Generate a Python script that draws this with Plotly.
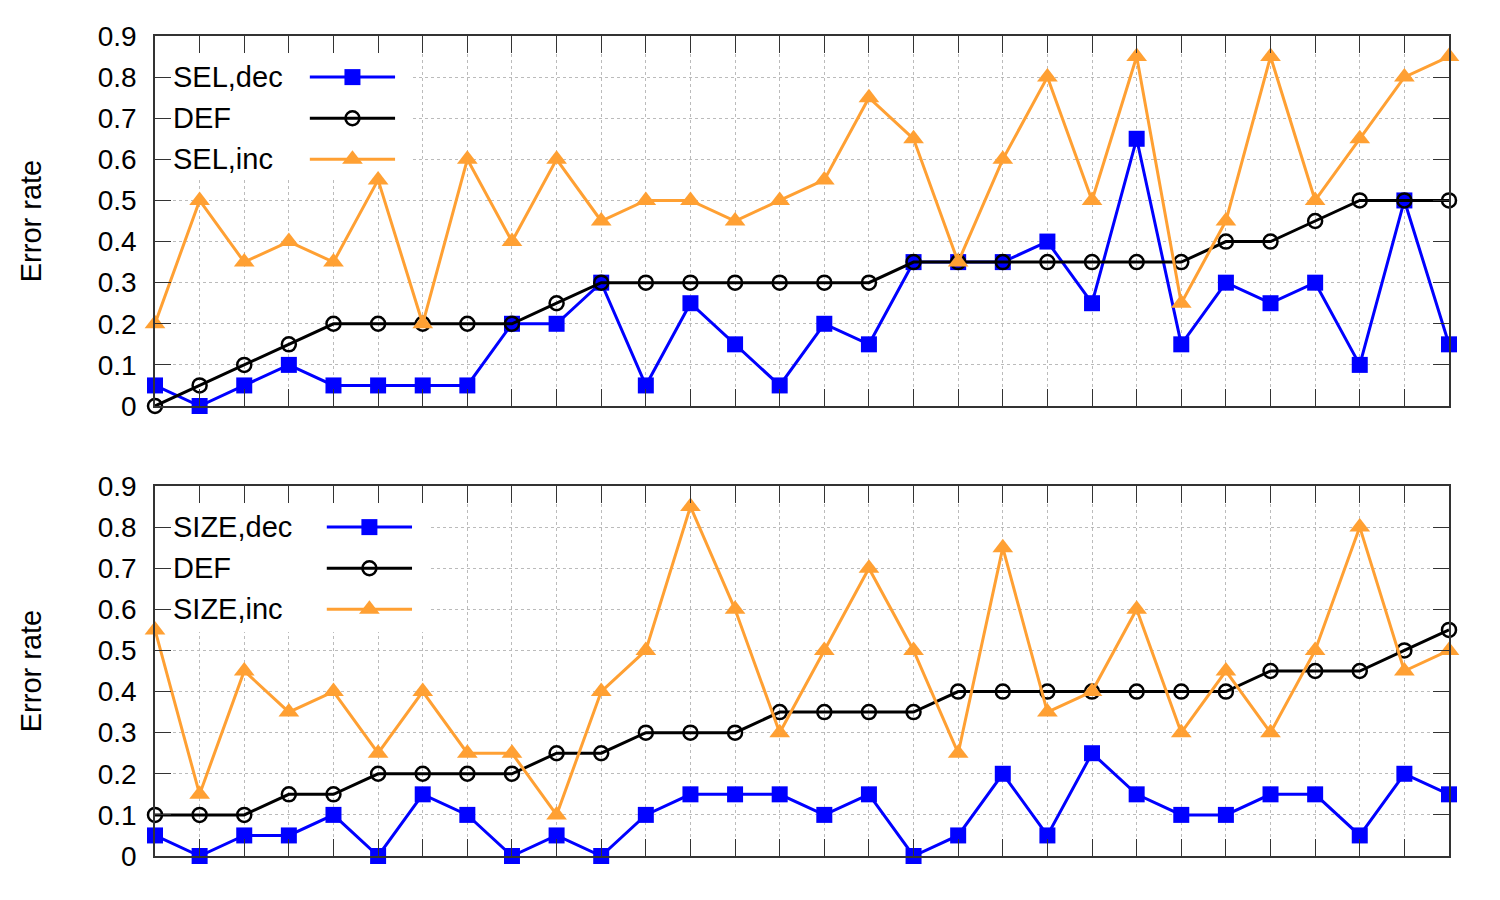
import plotly.graph_objects as go
from plotly.subplots import make_subplots

x = list(range(30))

sel_dec = [0.05, 0, 0.05, 0.1, 0.05, 0.05, 0.05, 0.05, 0.2, 0.2, 0.3, 0.05, 0.25, 0.15, 0.05,
           0.2, 0.15, 0.35, 0.35, 0.35, 0.4, 0.25, 0.65, 0.15, 0.3, 0.25, 0.3, 0.1, 0.5, 0.15]
def_top = [0, 0.05, 0.1, 0.15, 0.2, 0.2, 0.2, 0.2, 0.2, 0.25, 0.3, 0.3, 0.3, 0.3, 0.3,
           0.3, 0.3, 0.35, 0.35, 0.35, 0.35, 0.35, 0.35, 0.35, 0.4, 0.4, 0.45, 0.5, 0.5, 0.5]
sel_inc = [0.2, 0.5, 0.35, 0.4, 0.35, 0.55, 0.2, 0.6, 0.4, 0.6, 0.45, 0.5, 0.5, 0.45, 0.5,
           0.55, 0.75, 0.65, 0.35, 0.6, 0.8, 0.5, 0.85, 0.25, 0.45, 0.85, 0.5, 0.65, 0.8, 0.85]

size_dec = [0.05, 0, 0.05, 0.05, 0.1, 0, 0.15, 0.1, 0, 0.05, 0, 0.1, 0.15, 0.15, 0.15,
            0.1, 0.15, 0, 0.05, 0.2, 0.05, 0.25, 0.15, 0.1, 0.1, 0.15, 0.15, 0.05, 0.2, 0.15]
def_bot = [0.1, 0.1, 0.1, 0.15, 0.15, 0.2, 0.2, 0.2, 0.2, 0.25, 0.25, 0.3, 0.3, 0.3, 0.35,
           0.35, 0.35, 0.35, 0.4, 0.4, 0.4, 0.4, 0.4, 0.4, 0.4, 0.45, 0.45, 0.45, 0.5, 0.55]
size_inc = [0.55, 0.15, 0.45, 0.35, 0.4, 0.25, 0.4, 0.25, 0.25, 0.1, 0.4, 0.5, 0.85, 0.6, 0.3,
            0.5, 0.7, 0.5, 0.25, 0.75, 0.35, 0.4, 0.6, 0.3, 0.45, 0.3, 0.5, 0.8, 0.45, 0.5]

top_names = ["SEL,dec", "DEF", "SEL,inc"]
bot_names = ["SIZE,dec", "DEF", "SIZE,inc"]
y_ticks = [0, 0.1, 0.2, 0.3, 0.4, 0.5, 0.6, 0.7, 0.8, 0.9]
y_ticktext = ["0", "0.1", "0.2", "0.3", "0.4", "0.5", "0.6", "0.7", "0.8", "0.9"]

BLUE = "#0000ff"
BLACK = "#000000"
ORANGE = "#ffa033"
FONT = "Liberation Sans, Arial, Helvetica, sans-serif"

styles = [
    dict(color=BLUE, symbol="square", size=16, mline=0),
    dict(color=BLACK, symbol="circle-open", size=14, mline=2.5),
    dict(color=ORANGE, symbol="triangle-up", size=18, mline=0),
]

fig = make_subplots(rows=2, cols=1, vertical_spacing=80 / 820)

def add_series(row, series, names, key_x0, key_x1, box_x1, box_y0):
    xref = "x" if row == 1 else "x2"
    yref = "y" if row == 1 else "y2"
    # white legend box (hides grid behind the key)
    fig.add_shape(type="rect", xref=xref, yref=yref, x0=0, x1=box_x1, y0=box_y0, y1=0.9,
                  fillcolor="white", line=dict(width=0), layer="between")
    for ys, st in zip(series, styles):
        fig.add_trace(go.Scatter(
            x=x, y=ys, mode="lines+markers", cliponaxis=False, showlegend=False,
            line=dict(color=st["color"], width=3),
            marker=dict(symbol=st["symbol"], size=st["size"], color=st["color"],
                        line=dict(color=st["color"], width=st["mline"]))),
            row=row, col=1)
    # legend keys: label on the left, line sample with marker on the right
    for i, (name, st) in enumerate(zip(names, styles)):
        yk = 0.8 - 0.1 * i
        fig.add_trace(go.Scatter(
            x=[key_x0, key_x1], y=[yk, yk],
            mode="lines", cliponaxis=False, showlegend=False, hoverinfo="skip",
            line=dict(color=st["color"], width=3)), row=row, col=1)
        fig.add_trace(go.Scatter(
            x=[(key_x0 + key_x1) / 2], y=[yk], mode="markers", cliponaxis=False,
            showlegend=False, hoverinfo="skip",
            marker=dict(symbol=st["symbol"], size=st["size"], color=st["color"],
                        line=dict(color=st["color"], width=st["mline"]))), row=row, col=1)
        fig.add_annotation(x=0.36, y=yk, xref=xref, yref=yref, text=name, showarrow=False,
                           xanchor="left", yanchor="middle",
                           font=dict(family=FONT, size=29, color="black"))

add_series(1, [sel_dec, def_top, sel_inc], top_names, 3.47, 5.38, 5.72, 0.555)
add_series(2, [size_dec, def_bot, size_inc], bot_names, 3.85, 5.76, 6.12, 0.545)

for r in (1, 2):
    fig.update_xaxes(range=[0, 29], tickvals=x, showticklabels=False, ticks="inside",
                     ticklen=17, tickwidth=1.2, tickcolor="#333333",
                     showline=True, linecolor="#333333", linewidth=1.5, mirror="ticks",
                     showgrid=True, gridcolor="#bbbbbb", griddash="dot", gridwidth=1,
                     zeroline=False, row=r, col=1)
    fig.update_yaxes(range=[0, 0.9], tickvals=y_ticks, ticktext=y_ticktext,
                     ticks="inside", ticklen=16, tickwidth=1.2, tickcolor="#333333",
                     showline=True, linecolor="#333333", linewidth=1.5, mirror="ticks",
                     showgrid=True, gridcolor="#bbbbbb", griddash="dot", gridwidth=1,
                     zeroline=False, ticklabelstandoff=11,
                     tickfont=dict(family=FONT, size=28, color="black"),
                     title=dict(text="Error rate", font=dict(family=FONT, size=29, color="black"),
                                standoff=48),
                     row=r, col=1)

fig.update_layout(
    width=1500, height=900,
    margin=dict(l=155, r=51, t=36, b=44),
    paper_bgcolor="white", plot_bgcolor="white",
    font=dict(family=FONT, color="black"),
    showlegend=False,
)

fig.write_html("out.html")
